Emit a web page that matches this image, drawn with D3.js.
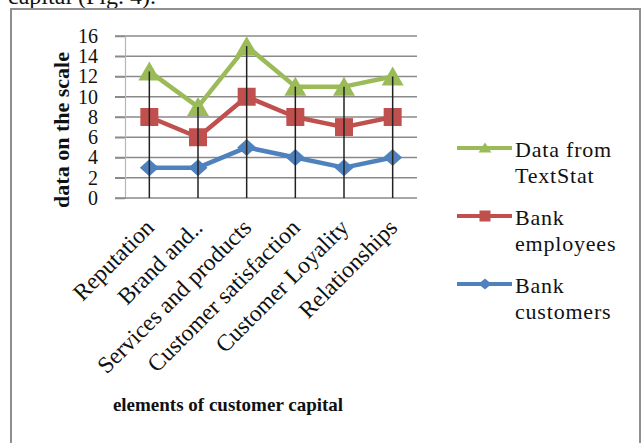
<!DOCTYPE html>
<html>
<head>
<meta charset="utf-8">
<script src="https://cdn.jsdelivr.net/npm/d3@7"></script>
<style>
  html, body { margin: 0; padding: 0; background: #fff; }
  svg { display: block; }
  text { font-family: "Liberation Serif", "Times New Roman", serif; fill: #111; }
</style>
</head>
<body>
<svg id="chart" width="643" height="443"></svg>
<script>
// Elements of customer capital, scored by three sources
const categories = ["Reputation", "Brand and..", "Services and products",
                    "Customer satisfaction", "Customer Loyality", "Relationships"];
const textStat  = [12.5, 9, 15, 11, 11, 12];
const employees = [8, 6, 10, 8, 7, 8];
const customers = [3, 3, 5, 4, 3, 4];
const yTicks = [0, 2, 4, 6, 8, 10, 12, 14, 16];

const seriesList = [
  { name: ["Data from", "TextStat"], values: textStat,  color: "#9bbb59", marker: "triangle" },
  { name: ["Bank", "employees"],     values: employees, color: "#c0504d", marker: "square" },
  { name: ["Bank", "customers"],     values: customers, color: "#4f81bd", marker: "diamond" }
];

const svg = d3.select("#chart");

// running text of the page above the figure, cut by the top edge
svg.append("text").attr("x", 8).attr("y", 4)
  .style("font-size", "24px").text("capital (Fig. 4).");

// figure frame
svg.append("rect")
  .attr("x", 11).attr("y", 9).attr("width", 629).attr("height", 460)
  .attr("fill", "none").attr("stroke", "#8f8f8f").attr("stroke-width", 2);

const plot = { left: 125, right: 417, top: 36, bottom: 198 };

const x = d3.scaleBand().domain(categories).range([plot.left, plot.right]);
const cx = c => x(c) + x.bandwidth() / 2;
const y = d3.scaleLinear().domain([0, 16]).range([plot.bottom, plot.top]);

// horizontal gridlines (with outside tick stubs)
svg.append("g").selectAll("line").data(yTicks.slice(1)).join("line")
  .attr("x1", plot.left - 10).attr("x2", plot.right)
  .attr("y1", d => y(d)).attr("y2", d => y(d))
  .attr("stroke", "#8a8a8a").attr("stroke-width", 1.5);

// value axis
const yAxis = svg.append("g")
  .attr("transform", `translate(${plot.left},0)`)
  .call(d3.axisLeft(y).tickValues(yTicks).tickSize(10).tickPadding(17));
yAxis.select(".domain").attr("stroke", "#b5b5b5").attr("stroke-width", 1.2);
yAxis.selectAll(".tick line").attr("stroke", "#8a8a8a").attr("stroke-width", 1.5);
yAxis.selectAll(".tick text")
  .style("font-size", "20px").style("font-family", "Liberation Serif, serif").attr("fill", "#111");

// category axis line
svg.append("line")
  .attr("x1", plot.left - 10).attr("x2", plot.right)
  .attr("y1", plot.bottom).attr("y2", plot.bottom)
  .attr("stroke", "#8a8a8a").attr("stroke-width", 1.5);

// series lines
const line = d3.line().x((d, i) => cx(categories[i])).y(d => y(d));
seriesList.forEach(s => {
  svg.append("path").datum(s.values)
    .attr("d", line).attr("fill", "none")
    .attr("stroke", s.color).attr("stroke-width", 4.5).attr("stroke-linejoin", "round");
});

// marker shapes
function markerPath(type, size) {
  const h = size / 2;
  if (type === "triangle") return `M0,${-h}L${h + 1},${h - 1}L${-h - 1},${h - 1}Z`;
  if (type === "square")   return `M${-h},${-h}H${h}V${h}H${-h}Z`;
  return `M0,${-h}L${h + 1},0L0,${h}L${-h - 1},0Z`;
}
const markerSize = { triangle: 20, square: 18, diamond: 17 };

seriesList.forEach(s => {
  svg.append("g").selectAll("path").data(s.values).join("path")
    .attr("transform", (d, i) => `translate(${cx(categories[i])},${y(d)})`)
    .attr("d", markerPath(s.marker, markerSize[s.marker]))
    .attr("fill", s.color);
});

// drop lines from the highest point down to the category axis
svg.append("g").selectAll("line").data(categories).join("line")
  .attr("x1", c => cx(c)).attr("x2", c => cx(c))
  .attr("y1", (c, i) => y(d3.max(seriesList, s => s.values[i])))
  .attr("y2", plot.bottom)
  .attr("stroke", "#222").attr("stroke-width", 1.5);

// rotated category labels
svg.append("g").selectAll("text").data(categories).join("text")
  .attr("transform", c => `translate(${cx(c) + 6},${plot.bottom + 31}) rotate(-45)`)
  .attr("text-anchor", "end")
  .style("font-size", "23.5px")
  .text(c => c);

// axis titles
svg.append("text")
  .attr("transform", "translate(69,130) rotate(-90)")
  .attr("text-anchor", "middle")
  .style("font-size", "22px").style("font-weight", "bold")
  .text("data on the scale");

svg.append("text")
  .attr("x", 228).attr("y", 411)
  .attr("text-anchor", "middle")
  .style("font-size", "19px").style("font-weight", "bold")
  .text("elements of customer capital");

// legend
const legendY = [148, 216, 284];
const legend = svg.append("g");
seriesList.forEach((s, k) => {
  const g = legend.append("g").attr("transform", `translate(457,${legendY[k]})`);
  g.append("line").attr("x1", 0).attr("x2", 55).attr("y1", 0).attr("y2", 0)
    .attr("stroke", s.color).attr("stroke-width", 4);
  g.append("path").attr("transform", "translate(28,0)")
    .attr("d", markerPath(s.marker, 11)).attr("fill", s.color);
  g.append("text").attr("x", 58).attr("y", 9)
    .style("font-size", "22px").style("letter-spacing", "0.8px")
    .selectAll("tspan").data(s.name).join("tspan")
    .attr("x", 58).attr("dy", (d, i) => i === 0 ? 0 : 26)
    .text(d => d);
});
</script>
</body>
</html>
